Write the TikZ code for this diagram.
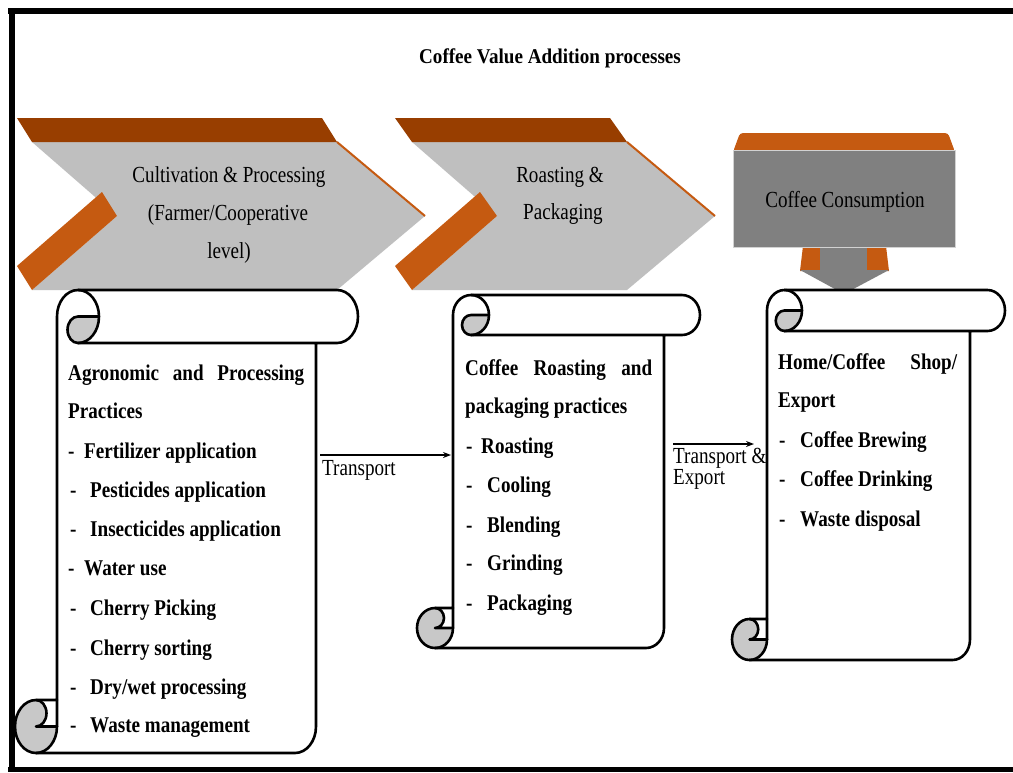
\documentclass[tikz,border=0pt]{standalone}
\usepackage{fontspec}
\setmainfont{Liberation Serif}
\newfontfamily\bodyfont[FakeStretch=0.85]{Liberation Serif}
\newfontfamily\chevfont[FakeStretch=0.83]{Liberation Serif}
\newfontfamily\titlefont[FakeStretch=0.91]{Liberation Serif}
\usetikzlibrary{arrows.meta}
\definecolor{bandorange}{RGB}{152,62,0}
\definecolor{stripeorange}{RGB}{197,90,17}
\definecolor{chevgray}{RGB}{191,191,191}
\definecolor{boxgray}{RGB}{128,128,128}
\definecolor{curlgray}{RGB}{200,200,200}

% l t r b chx chy
\newcommand\drawscroll[6]{%
  \pgfmathsetmacro\scHx{#5/2}\pgfmathsetmacro\scHy{#6/2}%
  \pgfmathsetmacro\scQx{#5/4}\pgfmathsetmacro\scQy{#6/4}%
  \pgfmathsetmacro\scBL{#1+#5}\pgfmathsetmacro\scBR{#3-#5}%
  \pgfmathsetmacro\scCTx{\scBL+\scHx}\pgfmathsetmacro\scCTy{#2+\scHy}%
  \pgfmathsetmacro\scCTr{\scBL+#5}%
  \pgfmathsetmacro\scRT{#2+#6}\pgfmathsetmacro\scRX{#3-\scHx}%
  \pgfmathsetmacro\scCBx{#1+\scHx}\pgfmathsetmacro\scCBy{#4-\scHy}%
  \pgfmathsetmacro\scCBt{#4-#6}\pgfmathsetmacro\scBRc{\scBR-\scHx}%
  \fill[white] (\scCBx,#4) -- (\scBRc,#4)
    arc[start angle=90,end angle=0,x radius=\scHx,y radius=\scHy]
    -- (\scBR,\scRT) -- (\scRX,\scRT)
    arc[start angle=90,end angle=-90,x radius=\scHx,y radius=\scHy]
    -- (\scCTx,#2)
    arc[start angle=-90,end angle=-180,x radius=\scHx,y radius=\scHy]
    -- (\scBL,\scCBt) -- (\scCBx,\scCBt)
    arc[start angle=-90,end angle=-270,x radius=\scHx,y radius=\scHy] -- cycle;
  \fill[curlgray] (\scCTx,\scCTy) -- (\scCTr,\scCTy)
    arc[start angle=0,end angle=90,x radius=\scHx,y radius=\scHy]
    arc[start angle=90,end angle=270,x radius=\scQx,y radius=\scQy] -- cycle;
  \fill[curlgray] (\scCBx,\scCBy) ellipse[x radius=\scHx,y radius=\scHy];
  \fill[white] (\scCBx,\scCBt) -- (\scBL,\scCBt) -- (\scBL,\scCBy) -- (\scCBx,\scCBy)
    arc[start angle=90,end angle=-90,x radius=\scQx,y radius=\scQy] -- cycle;
  \draw[scrollline] (\scBR,\scRT) -- (\scBR,\scCBy)
    arc[start angle=0,end angle=90,x radius=\scHx,y radius=\scHy]
    -- (\scCBx,#4)
    arc[start angle=90,end angle=270,x radius=\scHx,y radius=\scHy]
    -- (\scBL,\scCBt) -- (\scBL,\scCTy)
    arc[start angle=180,end angle=270,x radius=\scHx,y radius=\scHy]
    -- (\scRX,#2)
    arc[start angle=-90,end angle=90,x radius=\scHx,y radius=\scHy]
    -- (\scCTx,\scRT);
  \draw[scrollline] (\scCTx,#2)
    arc[start angle=-90,end angle=90,x radius=\scHx,y radius=\scHy]
    arc[start angle=90,end angle=270,x radius=\scQx,y radius=\scQy]
    -- (\scCTr,\scCTy);
  \draw[scrollline] (\scBL,\scCBt) -- (\scBL,\scCBy)
    arc[start angle=0,end angle=90,x radius=\scHx,y radius=\scHy];
  \draw[scrollline] (\scBL,\scCBy) -- (\scCBx,\scCBy)
    arc[start angle=90,end angle=-90,x radius=\scQx,y radius=\scQy];
}

\tikzset{
  bodytxt/.style={anchor=base west, inner sep=0pt, font=\bodyfont\bfseries\fontsize{22.5}{27}\selectfont},
  chevtxt/.style={anchor=base, inner sep=0pt, font=\chevfont\fontsize{23}{27}\selectfont},
  lbltxt/.style={anchor=base west, inner sep=0pt, font=\chevfont\fontsize{23}{27}\selectfont},
  scrollline/.style={line width=2.6pt, line join=round, line cap=round},
  flow/.style={line width=2.5pt, -{Stealth[length=8pt,width=6pt]}},
  frameline/.style={line width=6pt},
}

\begin{document}
\begin{tikzpicture}[x=1pt,y=-1pt]
\useasboundingbox (0,0) rectangle (1013,772);
\fill[white] (0,0) rectangle (1013,772);

% chevron 1
\fill[chevgray] (32,142) -- (337,142) -- (425,216) -- (337,290) -- (32,290) -- (117,216) -- cycle;
\fill[stripeorange] (117,216) -- (32,290) -- (17,266) -- (102,192) -- cycle;
\fill[bandorange] (17,118) -- (322,118) -- (337,142) -- (32,142) -- cycle;
\draw[stripeorange, line width=2pt] (337,142) -- (425,216);
% chevron 2
\fill[chevgray] (412,142) -- (627,142) -- (715,216) -- (627,290) -- (412,290) -- (497,216) -- cycle;
\fill[stripeorange] (497,216) -- (412,290) -- (395,266) -- (480,192) -- cycle;
\fill[bandorange] (395,118) -- (610,118) -- (627,142) -- (412,142) -- cycle;
\draw[stripeorange, line width=2pt] (627,142) -- (715,216);

% consumption box and down arrow
\fill[stripeorange] (803,246) -- (886,246) -- (889,271) -- (800,271) -- cycle;
\fill[boxgray] (820,246) rectangle (867,271);
\fill[boxgray] (800,270) -- (889,270) -- (844,294) -- cycle;
\fill[stripeorange, rounded corners=3pt] (733,152) -- (740,133) -- (948,133) -- (955,152) -- cycle;
\fill[boxgray] (733,150) rectangle (955,247);
\draw[gray!35, line width=1pt] (733,150) rectangle (955,247);

% scrolls
\drawscroll{15}{290}{358}{753}{42}{53}
\drawscroll{417}{295}{700}{648}{36}{40}
\drawscroll{732}{290}{1005}{660}{35}{41}

% title
\node[anchor=base, inner sep=0pt, font=\titlefont\bfseries\fontsize{21}{25}\selectfont] (title) at (550,63) {Coffee Value Addition processes};

% chevron texts
\node[chevtxt] (c1a) at (229,182) {Cultivation \& Processing};
\node[chevtxt] (c1b) at (228,220) {(Farmer/Cooperative};
\node[chevtxt] (c1c) at (229,258) {level)};
\node[chevtxt] (c2a) at (560,182) {Roasting \&};
\node[chevtxt] (c2b) at (563,219) {Packaging};
\node[chevtxt] (c3a) at (845,207) {Coffee Consumption};

% scroll 1 text
\node[bodytxt] (s1a) at (68,380) {\hbox to 236pt{Agronomic\hfill and\hfill Processing}};
\node[bodytxt] (s1b) at (68,418) {Practices};
\node[bodytxt] (s1c) at (68,458) {\makebox[16pt][l]{-}Fertilizer application};
\node[bodytxt] (s1d) at (70,497) {\makebox[20pt][l]{-}Pesticides application};
\node[bodytxt] (s1e) at (70,536) {\makebox[20pt][l]{-}Insecticides application};
\node[bodytxt] (s1f) at (68,575) {\makebox[16pt][l]{-}Water use};
\node[bodytxt] (s1g) at (70,615) {\makebox[20pt][l]{-}Cherry Picking};
\node[bodytxt] (s1h) at (70,655) {\makebox[20pt][l]{-}Cherry sorting};
\node[bodytxt] (s1i) at (70,694) {\makebox[20pt][l]{-}Dry/wet processing};
\node[bodytxt] (s1j) at (70,732) {\makebox[20pt][l]{-}Waste management};

% scroll 2 text
\node[bodytxt] (s2a) at (465,375) {\hbox to 187pt{Coffee\hfill Roasting\hfill and}};
\node[bodytxt] (s2b) at (465,413) {packaging practices};
\node[bodytxt] (s2c) at (466,453) {\makebox[15pt][l]{-}Roasting};
\node[bodytxt] (s2d) at (466,492) {\makebox[21pt][l]{-}Cooling};
\node[bodytxt] (s2e) at (466,532) {\makebox[21pt][l]{-}Blending};
\node[bodytxt] (s2f) at (466,570) {\makebox[21pt][l]{-}Grinding};
\node[bodytxt] (s2g) at (466,610) {\makebox[21pt][l]{-}Packaging};

% scroll 3 text
\node[bodytxt] (s3a) at (778,369) {\hbox to 179pt{Home/Coffee\hfill Shop/}};
\node[bodytxt] (s3b) at (778,407) {Export};
\node[bodytxt] (s3c) at (779,447) {\makebox[21pt][l]{-}Coffee Brewing};
\node[bodytxt] (s3d) at (779,486) {\makebox[21pt][l]{-}Coffee Drinking};
\node[bodytxt] (s3e) at (779,526) {\makebox[21pt][l]{-}Waste disposal};

% transport arrows
\coordinate (a1s) at (320,455);
\coordinate (a1e) at (451,455);
\coordinate (a2s) at (673,444);
\coordinate (a2e) at (754,444);
\draw[flow] (a1s) -- (a1e);
\draw[flow] (a2s) -- (a2e);
\node[lbltxt] (l1) at (322,475) {Transport};
\node[lbltxt] (l2a) at (673,463) {Transport \&};
\node[lbltxt] (l2b) at (673,484) {Export};

% frame
\draw[frameline] (8,11) -- (1013,11);
\draw[frameline] (11.5,8) -- (11.5,772);
\draw[frameline, line width=5pt] (8,769.5) -- (1013,769.5);
\end{tikzpicture}
\end{document}
